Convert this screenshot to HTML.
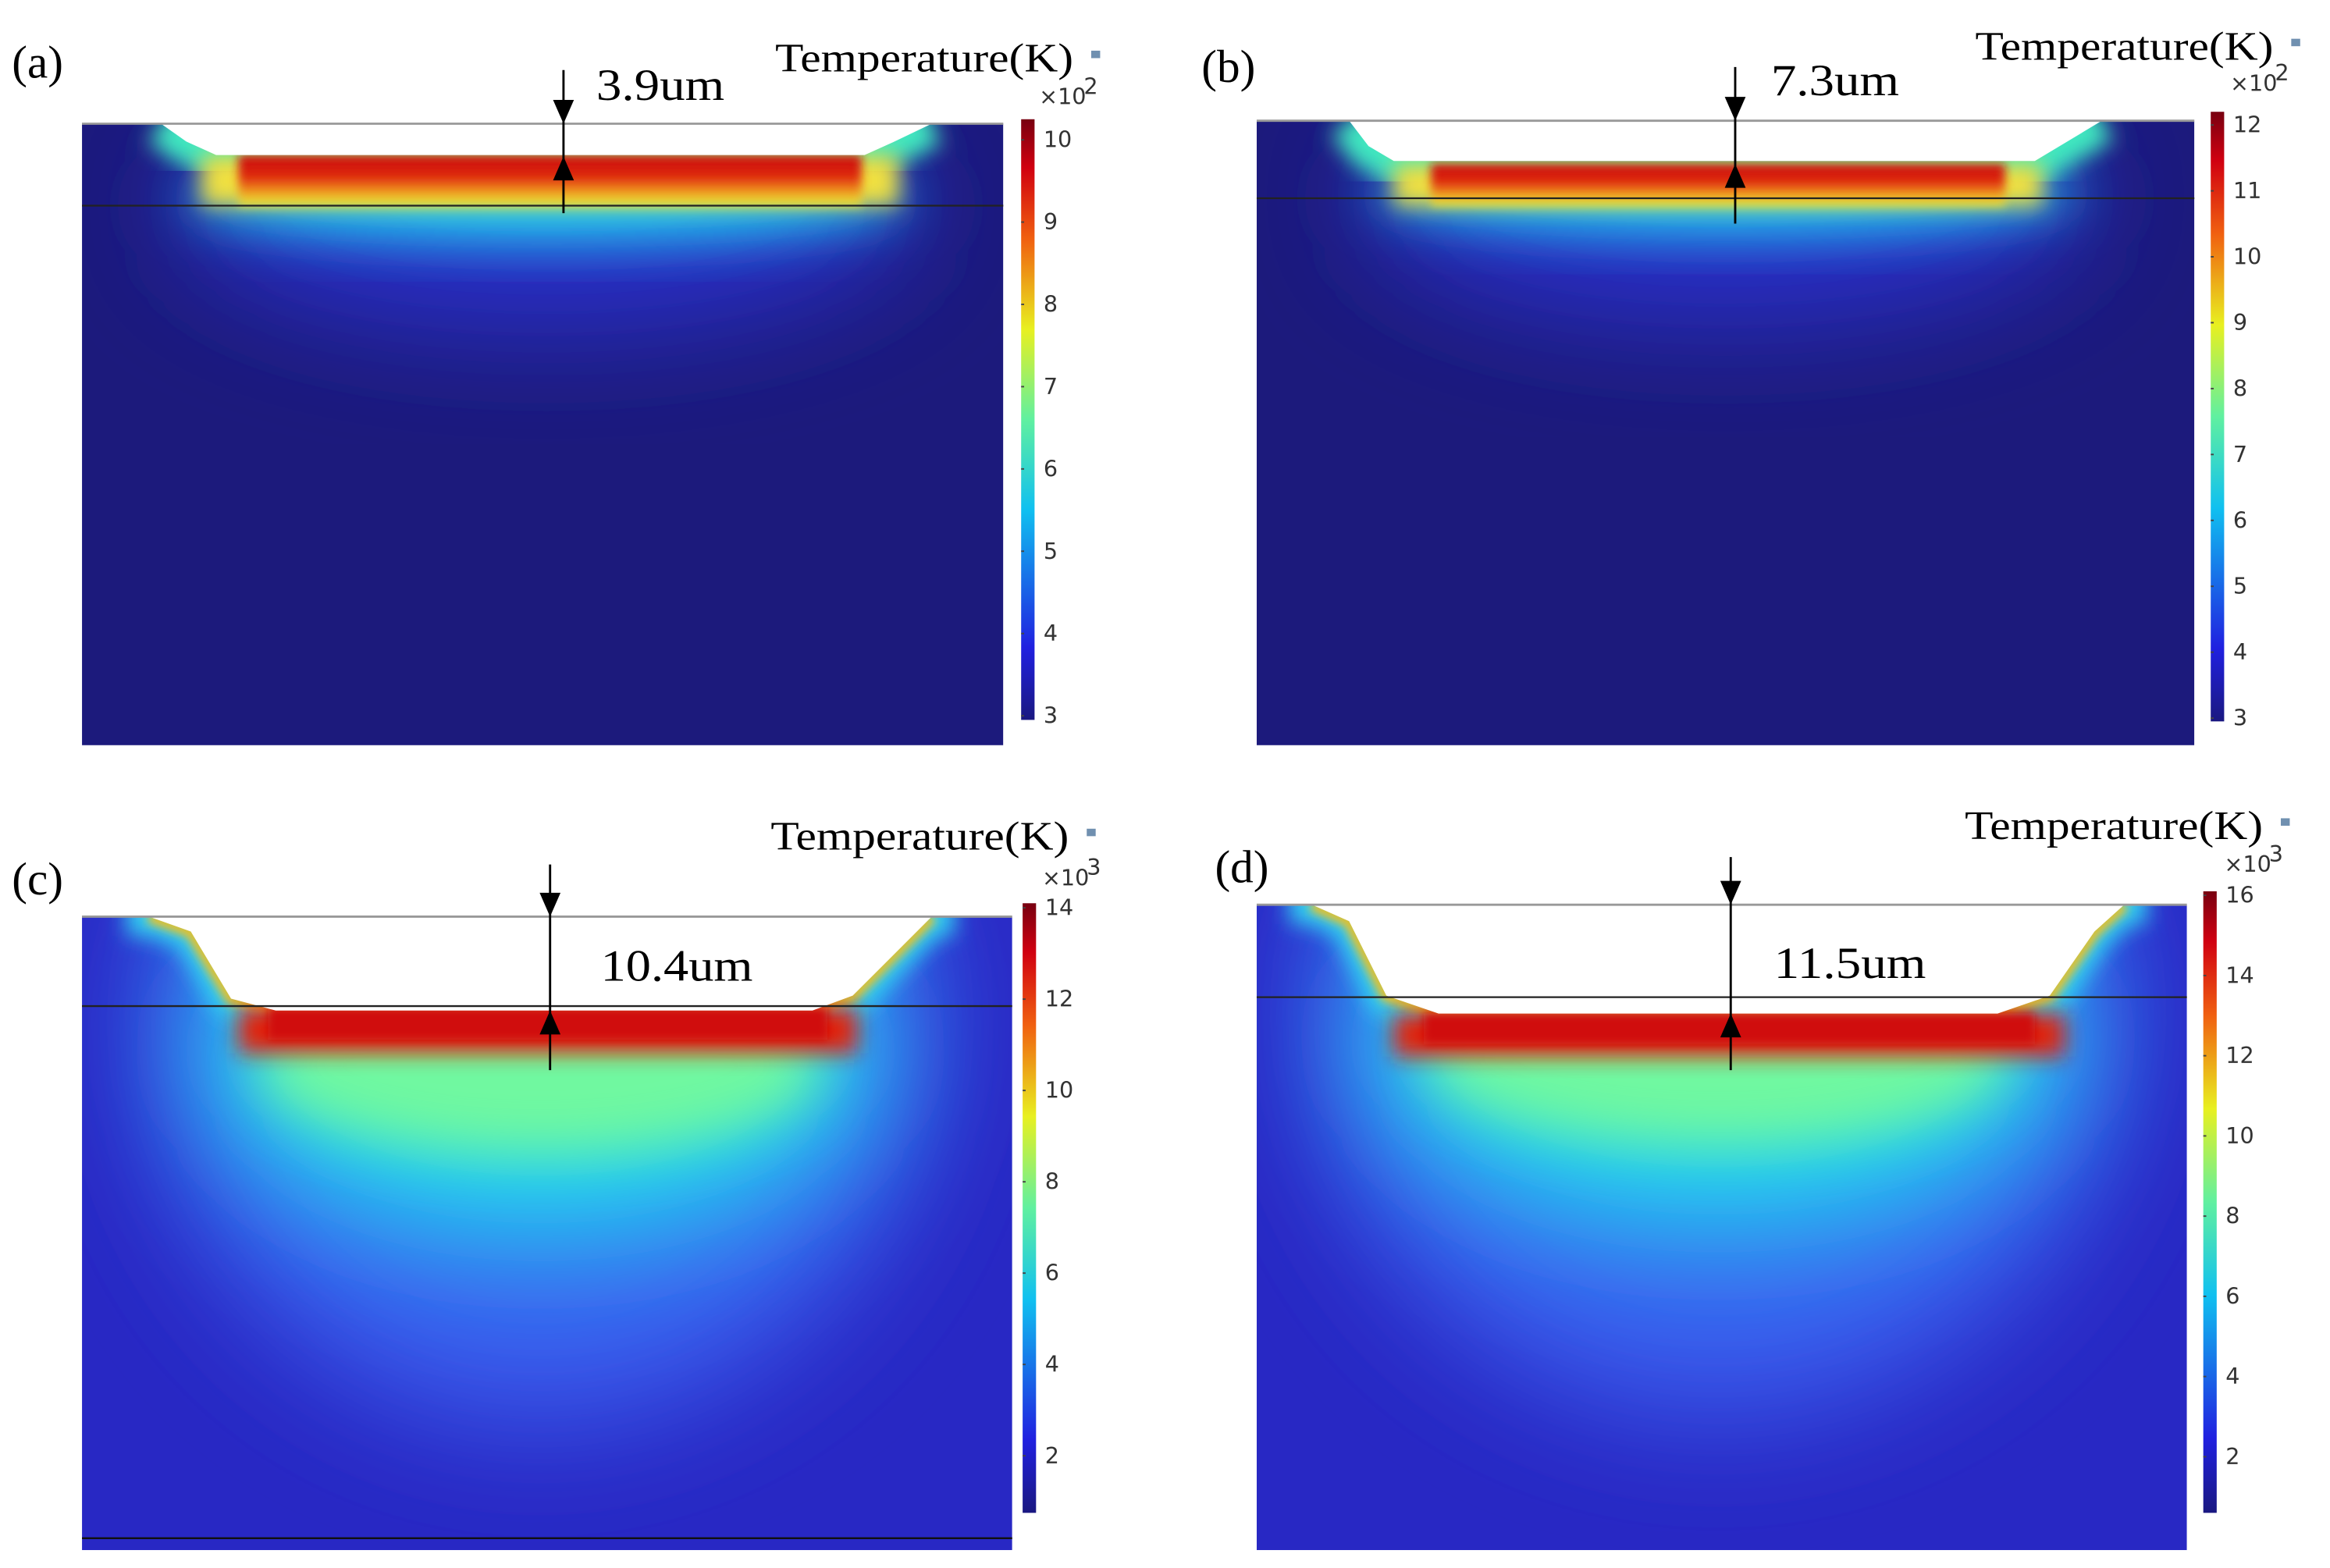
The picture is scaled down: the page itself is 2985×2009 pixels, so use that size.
<!DOCTYPE html>
<html><head><meta charset="utf-8">
<style>
html,body{margin:0;padding:0;background:#fff;}
svg{display:block;}
text{font-family:"Liberation Serif",serif;}
.tk{font-family:"DejaVu Sans","Liberation Sans",sans-serif;font-size:15px;fill:#333;}
</style></head>
<body>
<svg id="fig" width="2985" height="2009" viewBox="0 0 1563 1052" preserveAspectRatio="none" xmlns="http://www.w3.org/2000/svg">
<defs>
<linearGradient id="jet" x1="0" y1="1" x2="0" y2="0">
<stop offset="0" stop-color="#1a1880"/><stop offset="0.12" stop-color="#2020e0"/>
<stop offset="0.35" stop-color="#10c0f0"/><stop offset="0.5" stop-color="#60f0a0"/>
<stop offset="0.65" stop-color="#e8f020"/><stop offset="0.8" stop-color="#f06010"/>
<stop offset="0.92" stop-color="#d00010"/><stop offset="1" stop-color="#780010"/>
</linearGradient>
<linearGradient id="bandA" x1="0" y1="0" x2="0" y2="1">
<stop offset="0" stop-color="#c80a10"/><stop offset="0.45" stop-color="#e02a10"/>
<stop offset="0.75" stop-color="#f0a020"/><stop offset="1" stop-color="#e0f040"/>
</linearGradient>
<filter id="b40" x="-50%" y="-50%" width="200%" height="200%"><feGaussianBlur stdDeviation="40"/></filter>
<filter id="b20" x="-50%" y="-50%" width="200%" height="200%"><feGaussianBlur stdDeviation="18"/></filter>
<filter id="b8" x="-50%" y="-50%" width="200%" height="200%"><feGaussianBlur stdDeviation="7"/></filter>
<filter id="b3" x="-50%" y="-50%" width="200%" height="200%"><feGaussianBlur stdDeviation="3"/></filter>
</defs>
</svg>
<script>
// Data
const panelLabels = ["(a)","(b)","(c)","(d)"];
const depthLabels = ["3.9um","7.3um","10.4um","11.5um"];
const ticksA = [3,4,5,6,7,8,9,10];
const ticksB = [3,4,5,6,7,8,9,10,11,12];
const ticksC = [2,4,6,8,10,12,14];
const ticksD = [2,4,6,8,10,12,14,16];
const rangeA = [2.95,10.25];
const rangeB = [2.95,12.2];
const rangeC = [0.75,14.1];
const rangeD = [0.6,16.1];
const exponents = ["2","2","3","3"];

const NS="http://www.w3.org/2000/svg";
const svg=document.getElementById('fig');
function mk(tag,attrs,parent){const e=document.createElementNS(NS,tag);for(const k in attrs)e.setAttribute(k,attrs[k]);(parent||svg).appendChild(e);return e;}

const L=[
 {x0:55,x1:673,y0:83,y1:500,surf:138,ax:378,arrTop:47,arrBot:143,poolY:105,
  pool:[[108,83],[125,95],[145,104],[580,104],[600,95],[625,83]],
  bg:"#1c1a7c",glowBg:"#2a30d0",lab:[8,52],dep:[400,67,86],temp:[520,48,200],cb:[685,80,483],exp:[697,70],
  red:[160,104,578,138],deep:0,ticks:ticksA,range:rangeA},
 {x0:843,x1:1472,y0:81,y1:500,surf:133,ax:1164,arrTop:45,arrBot:150,poolY:110,
  pool:[[905,81],[918,98],[935,108],[1365,108],[1385,96],[1410,81]],
  bg:"#1c1a7c",glowBg:"#2a30d0",lab:[806,55],dep:[1188,64,86],temp:[1325,40,200],cb:[1483,75,484],exp:[1496,61],
  red:[960,110,1345,138],deep:0,ticks:ticksB,range:rangeB},
 {x0:55,x1:679,y0:615,y1:1040,surf:675,ax:369,arrTop:580,arrBot:718,poolY:678,
  pool:[[100,615],[128,625],[155,670],[185,678],[545,678],[572,668],[625,615]],
  bg:"#2828c4",glowBg:"#3a60f0",lab:[8,600],dep:[403,658,102],temp:[517,570,200],cb:[686,606,1015],exp:[699,594],
  red:[160,676,575,712],deep:1,ticks:ticksC,range:rangeC,botline:1032},
 {x0:843,x1:1467,y0:607,y1:1040,surf:669,ax:1161,arrTop:575,arrBot:718,poolY:680,
  pool:[[880,607],[905,618],[930,668],[965,680],[1340,680],[1375,668],[1405,625],[1425,607]],
  bg:"#2828c4",glowBg:"#3a60f0",lab:[815,592],dep:[1190,656,102],temp:[1318,563,200],cb:[1478,598,1015],exp:[1492,585],
  red:[935,680,1385,714],deep:1,ticks:ticksD,range:rangeD}
];

L.forEach((p,i)=>{
  const g=mk('g',{});
  
  
  const cid='clip'+i;
  const cp=mk('clipPath',{id:cid},g);
  mk('rect',{x:p.x0,y:p.y0,width:p.x1-p.x0,height:p.y1-p.y0},cp);
  const f=mk('g',{'clip-path':'url(#'+cid+')'},g);
  
  
  mk('rect',{x:p.x0,y:p.y0,width:p.x1-p.x0,height:p.y1-p.y0,fill:p.bg},f);
  const cx=(p.pool[0][0]+p.pool[p.pool.length-1][0])/2, w=(p.pool[p.pool.length-1][0]-p.pool[0][0]);
  if(p.deep){
    mk('ellipse',{cx:cx,cy:p.surf+10,rx:w*0.5,ry:270,fill:p.glowBg,filter:'url(#b40)'},f);
    mk('ellipse',{cx:cx,cy:p.surf+30,rx:w*0.44,ry:130,fill:'#20d8f0',filter:'url(#b40)'},f);
    mk('ellipse',{cx:cx,cy:p.surf+40,rx:w*0.36,ry:60,fill:'#70f8a0',filter:'url(#b20)'},f);
    mk('polygon',{points:p.pool.map(q=>q.join(',')).join(' ')+' '+(p.pool[p.pool.length-1][0]+15)+','+p.y0+' '+(p.pool[0][0]-15)+','+p.y0,fill:'none',stroke:'#30d0f0','stroke-width':26,filter:'url(#b8)'},f);
    mk('polyline',{points:p.pool.map(q=>q.join(',')).join(' '),fill:'none',stroke:'#f0c020','stroke-width':8,filter:'url(#b3)'},f);
    mk('rect',{x:p.red[0],y:p.red[1],width:p.red[2]-p.red[0],height:(p.red[3]-p.red[1])*0.85,fill:'#e02010',filter:'url(#b8)'},f);
    mk('rect',{x:p.red[0]+20,y:p.red[1],width:p.red[2]-p.red[0]-40,height:(p.red[3]-p.red[1])*0.6,fill:'#d01010',filter:'url(#b3)'},f);
  } else {
    mk('ellipse',{cx:cx,cy:p.surf,rx:w*0.48,ry:80,fill:p.glowBg,filter:'url(#b40)'},f);
    mk('ellipse',{cx:cx,cy:p.surf-5,rx:w*0.47,ry:28,fill:'#20d8f0',filter:'url(#b20)'},f);
    mk('polyline',{points:p.pool.map(q=>q.join(',')).join(' '),fill:'none',stroke:'#40e8c0','stroke-width':30,filter:'url(#b8)'},f);
    mk('rect',{x:p.red[0]-25,y:p.red[1],width:p.red[2]-p.red[0]+50,height:p.red[3]-p.red[1],fill:'#f0e040',filter:'url(#b8)'},f);
    mk('rect',{x:p.red[0],y:p.red[1],width:p.red[2]-p.red[0],height:p.red[3]-p.red[1],fill:'url(#bandA)',filter:'url(#b3)'},f);
  }
  const pp=mk('polygon',{points:p.pool.map(q=>q.join(',')).join(' ')+' '+p.pool[p.pool.length-1][0]+','+(p.y0-1)+' '+p.pool[0][0]+','+(p.y0-1),fill:'#fff'},f);
  
  
  mk('line',{x1:p.x0,x2:p.x1,y1:p.y0,y2:p.y0,stroke:'#999','stroke-width':1.5},g);
  const sl=mk('line',{x1:p.x0,x2:p.x1,y1:p.surf,y2:p.surf,stroke:'#222','stroke-width':1.2},g);
  
  
  if(p.botline) mk('line',{x1:p.x0,x2:p.x1,y1:p.botline,y2:p.botline,stroke:'#111','stroke-width':1.2},g);
  const ar=mk('g',{},g);
  
  
  mk('line',{x1:p.ax,x2:p.ax,y1:p.arrTop,y2:p.arrBot,stroke:'#000','stroke-width':1.5},ar);
  mk('polygon',{points:`${p.ax-7},${p.y0-16} ${p.ax+7},${p.y0-16} ${p.ax},${p.y0}`,fill:'#000'},ar);
  mk('polygon',{points:`${p.ax-7},${p.poolY+16} ${p.ax+7},${p.poolY+16} ${p.ax},${p.poolY}`,fill:'#000'},ar);
  const t1=mk('text',{x:p.lab[0],y:p.lab[1],'font-size':31,fill:'#000'},g);t1.textContent=panelLabels[i];
  
  const t2=mk('text',{x:p.dep[0],y:p.dep[1],'font-size':30,fill:'#000',textLength:p.dep[2],lengthAdjust:'spacingAndGlyphs'},g);t2.textContent=depthLabels[i];
  
  const t3=mk('text',{x:p.temp[0],y:p.temp[1],'font-size':27,fill:'#000',textLength:p.temp[2],lengthAdjust:'spacingAndGlyphs'},g);t3.textContent="Temperature(K)";
  
  mk('rect',{x:p.temp[0]+p.temp[2]+12,y:p.temp[1]-14,width:6,height:5,fill:'#7090b0'},g);
  const cb=mk('g',{},g);
  
  
  mk('rect',{x:p.cb[0],y:p.cb[1],width:9,height:p.cb[2]-p.cb[1],fill:'url(#jet)'},cb);
  const ex=mk('text',{x:p.exp[0],y:p.exp[1],class:'tk','font-size':14},cb);ex.textContent='×10';
  const es=mk('text',{x:p.exp[0]+30,y:p.exp[1]-7,class:'tk','font-size':9},cb);es.textContent=exponents[i];
  const yv=v=>p.cb[2]-(v-p.range[0])/(p.range[1]-p.range[0])*(p.cb[2]-p.cb[1]);
  p.ticks.forEach(v=>{
    const y=yv(v);
    mk('line',{x1:p.cb[0],x2:p.cb[0]+2,y1:y,y2:y,stroke:'#444','stroke-width':1},cb);
    const t=mk('text',{x:p.cb[0]+15,y:y+5,class:'tk'},cb);t.textContent=v;
    
    
  });
});
</script>
</body></html>
